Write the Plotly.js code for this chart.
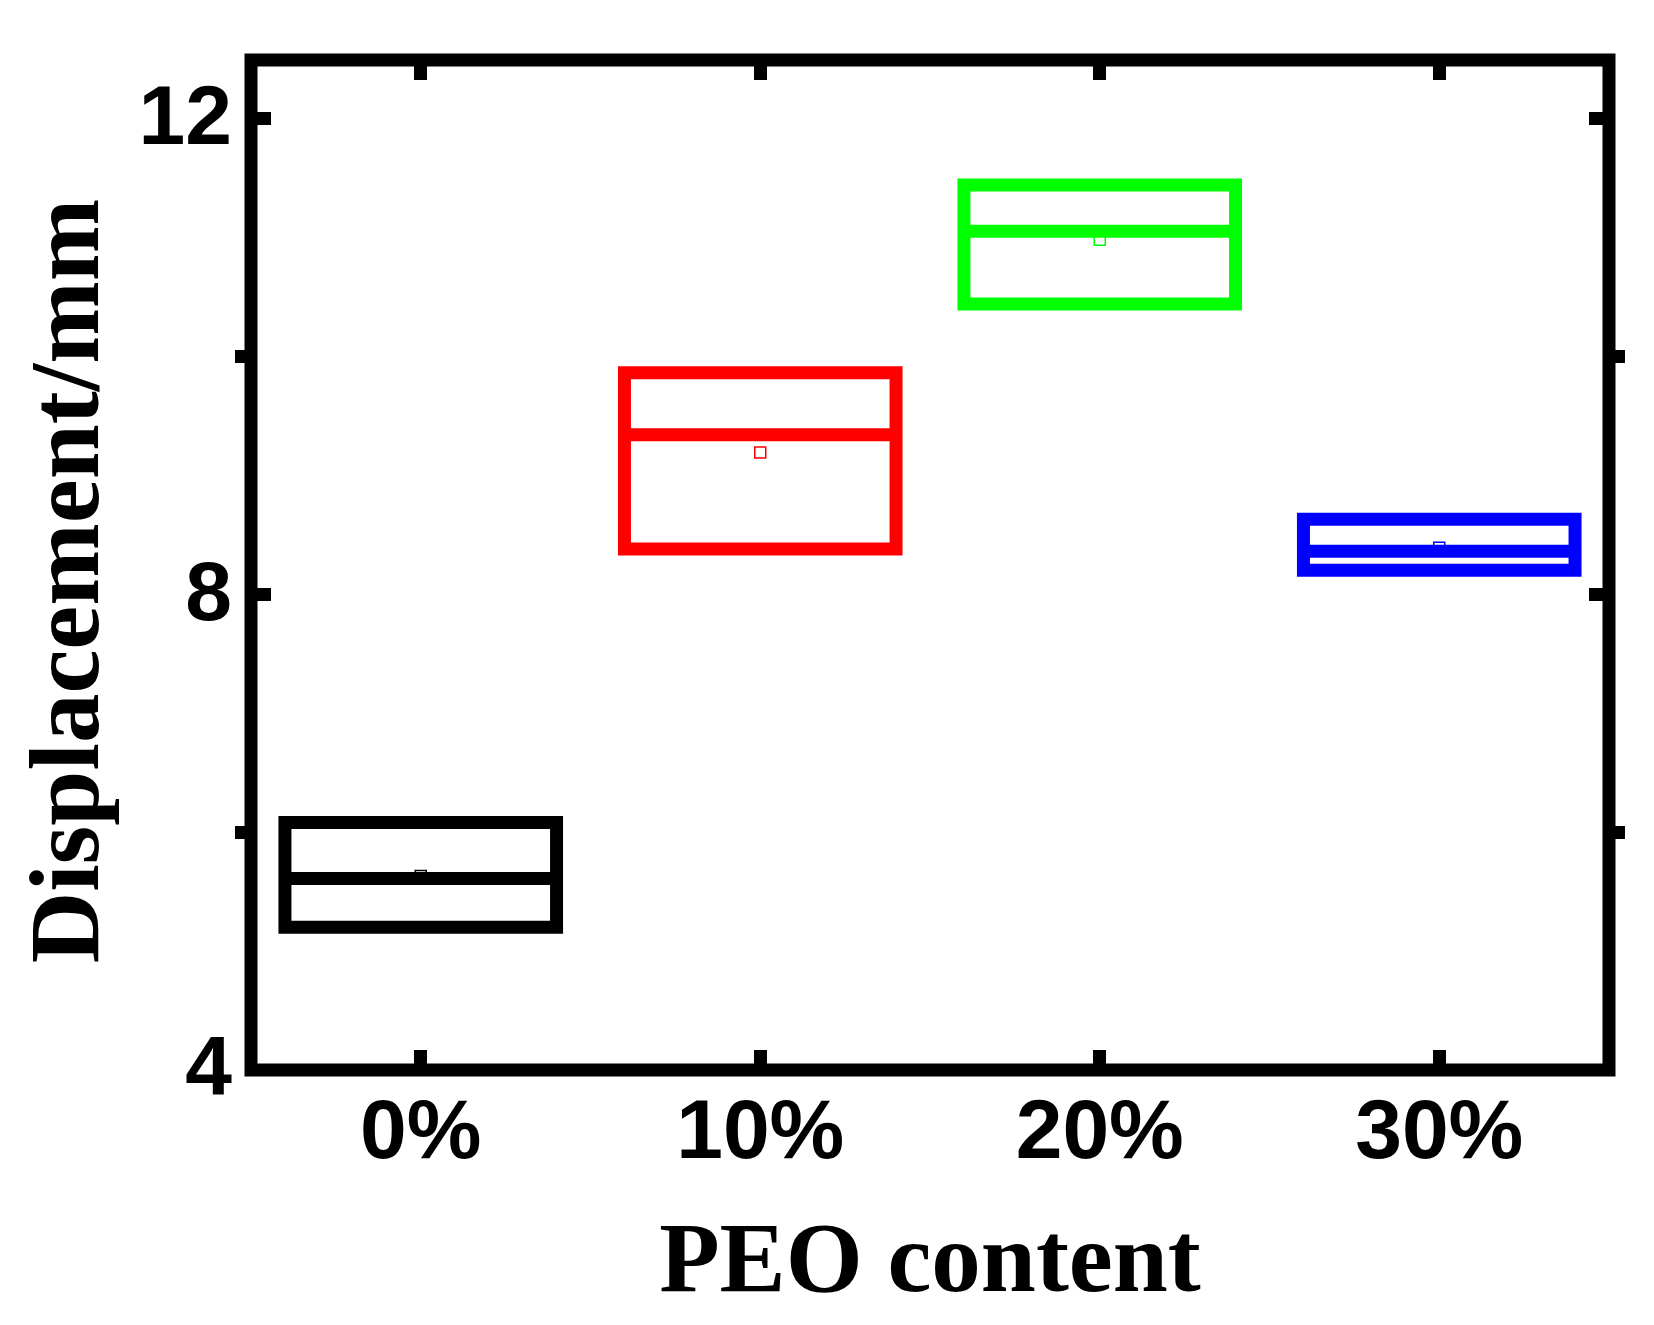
<!DOCTYPE html>
<html>
<head>
<meta charset="utf-8">
<script src="https://cdn.plot.ly/plotly-3.0.1.min.js"></script>
<style>
  html, body { margin: 0; padding: 0; background: #ffffff; }
  #chart { width: 1654px; height: 1325px; }
</style>
</head>
<body>
<div id="chart"></div>
<script>
// ---- data ----
const categories = ['0%', '10%', '20%', '30%'];
const q1Values     = [5.20, 8.38, 10.44, 8.20];
const medianValues = [5.61, 9.34, 11.05, 8.36];
const q3Values     = [6.08, 9.86, 11.44, 8.63];
const meanValues   = [5.63, 9.19, 10.98, 8.39];
const boxColors    = ['#000000', '#ff0000', '#00ff00', '#0000ff'];
const yTickVals    = [4, 8, 12];
const yTickText    = ['4', '8', '12'];
const yMinorVals   = [6, 10];
const xTitleText   = 'PEO content';
const yTitleText   = 'Displacement/mm';

const traces = [];
categories.forEach((cat, i) => {
  traces.push({
    type: 'box',
    name: cat,
    x: [cat],
    q1: [q1Values[i]],
    median: [medianValues[i]],
    q3: [q3Values[i]],
    lowerfence: [q1Values[i]],
    upperfence: [q3Values[i]],
    width: 0.8,
    whiskerwidth: 0,
    line: { color: boxColors[i], width: 13 },
    fillcolor: 'rgba(255,255,255,0)',
    boxpoints: false,
    showlegend: false,
    hoverinfo: 'skip'
  });
});
categories.forEach((cat, i) => {
  traces.push({
    type: 'scatter',
    mode: 'markers',
    x: [cat],
    y: [meanValues[i]],
    marker: { symbol: 'square-open', size: 11, color: boxColors[i], line: { width: 1.5, color: boxColors[i] } },
    showlegend: false,
    hoverinfo: 'skip'
  });
});

const tickFont = { family: 'Liberation Sans, Arial, sans-serif', size: 84, color: '#000000', weight: 'bold' };
const titleFont = { family: 'Liberation Serif, Times New Roman, serif', size: 99, color: '#000000', weight: 'bold' };

const layout = {
  width: 1654,
  height: 1325,
  margin: { l: 251, r: 45, t: 60, b: 255, pad: 0 },
  paper_bgcolor: '#ffffff',
  plot_bgcolor: '#ffffff',
  boxmode: 'overlay',
  showlegend: false,
  xaxis: {
    type: 'category',
    categoryarray: categories,
    range: [-0.5, 3.5],
    showline: false,
    showgrid: false,
    zeroline: false,
    ticks: 'inside',
    ticklen: 20,
    tickwidth: 13,
    tickcolor: '#000000',
    mirror: 'ticks',
    tickfont: tickFont,
    ticklabelstandoff: 3,
    title: { text: xTitleText, font: titleFont, standoff: 46 }
  },
  yaxis: {
    range: [4, 12.49],
    tickmode: 'array',
    tickvals: yTickVals,
    ticktext: yTickText,
    showline: false,
    showgrid: false,
    zeroline: false,
    ticks: 'inside',
    ticklen: 20,
    tickwidth: 13,
    tickcolor: '#000000',
    mirror: 'ticks',
    minor: { tickmode: 'array', tickvals: yMinorVals, ticks: 'outside', ticklen: 15, tickwidth: 13, tickcolor: '#000000', showgrid: false },
    tickfont: tickFont,
    ticklabelstandoff: 18,
    ticklabelshift: -4
  },
  annotations: [{
    text: yTitleText,
    xref: 'paper', yref: 'paper',
    x: -0.1377, y: 0.484,
    xanchor: 'center', yanchor: 'middle',
    textangle: -90,
    showarrow: false,
    font: titleFont
  }],
  shapes: [{
    type: 'rect', xref: 'paper', yref: 'paper',
    x0: 0, x1: 1, y0: 0, y1: 1,
    line: { color: '#000000', width: 13 },
    fillcolor: 'rgba(0,0,0,0)',
    layer: 'above'
  }]
};

Plotly.newPlot('chart', traces, layout, { displayModeBar: false, staticPlot: true });
</script>
</body>
</html>
